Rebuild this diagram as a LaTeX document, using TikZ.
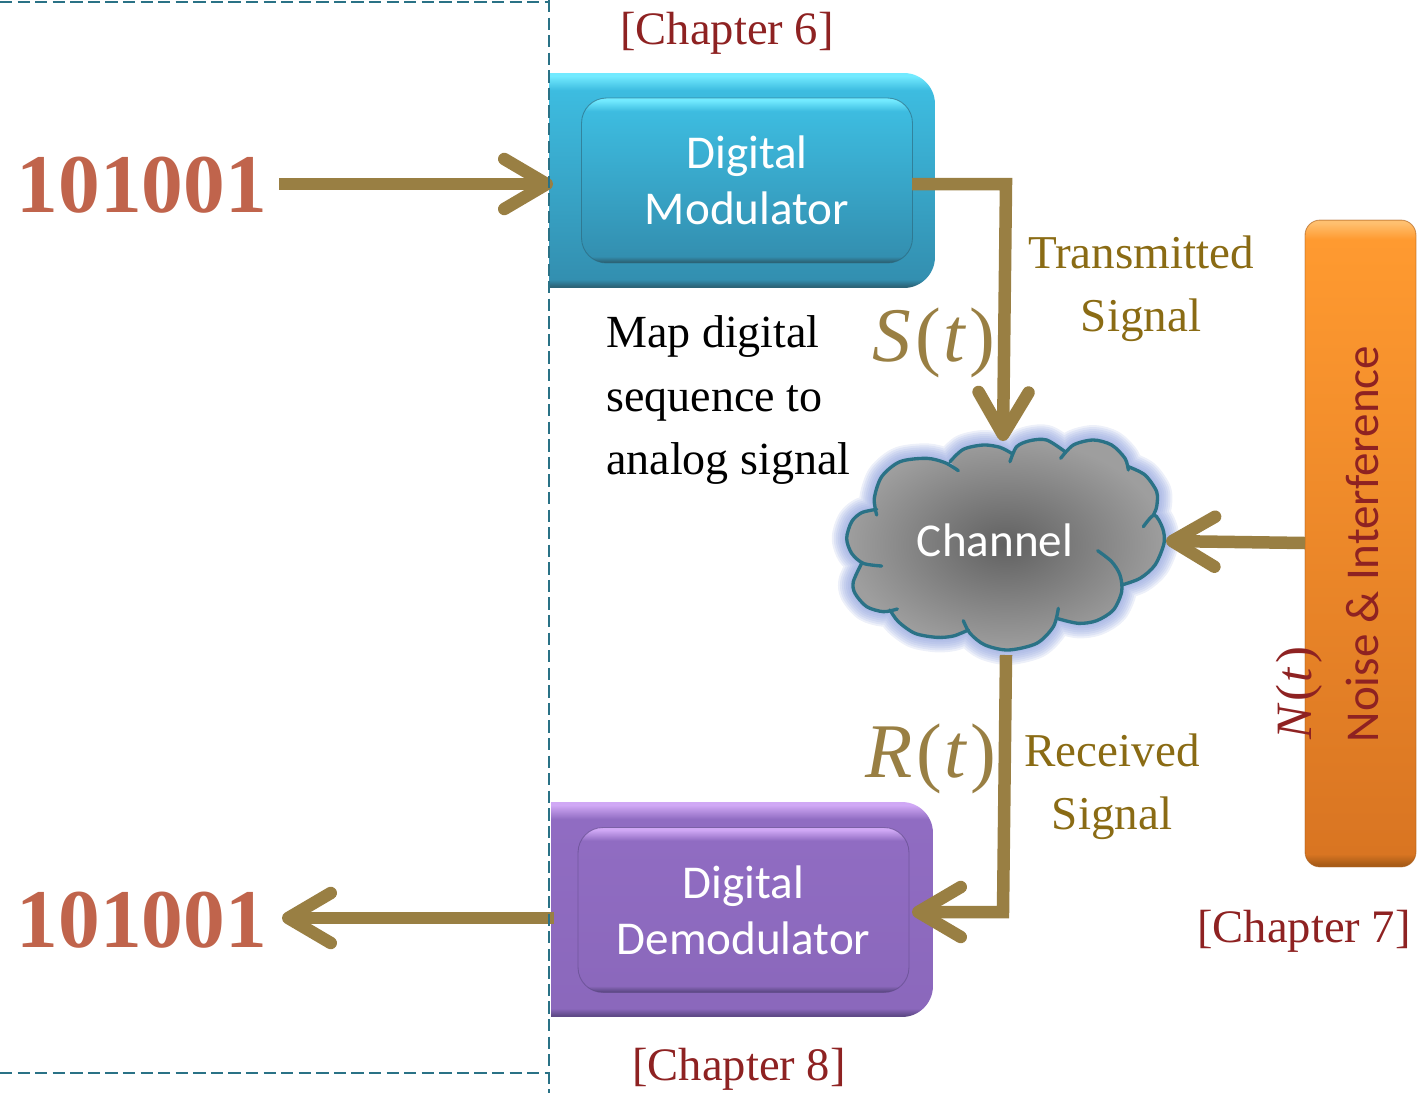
\documentclass[tikz,border=0pt]{standalone}
\usepackage{fontspec}
\setmainfont{Liberation Serif}
\newfontfamily\calibrifont{Carlito}
\usepackage{tikz}
\usetikzlibrary{arrows.meta}
\usepackage{xcolor}
\definecolor{dash_teal}{HTML}{2A7286}
\definecolor{flow_tan}{HTML}{997F43}
\definecolor{bits_red}{HTML}{C0644C}
\definecolor{chapter_red}{HTML}{8E2222}
\definecolor{label_olive}{HTML}{8A6B14}
\definecolor{glow_blue}{HTML}{8C9FDC}
\definecolor{blue_rim}{HTML}{2C6478}
\definecolor{blue_low}{HTML}{338FB0}
\definecolor{blue_high}{HTML}{3DBCE0}
\definecolor{blue_light}{HTML}{72EAFF}
\definecolor{purple_rim}{HTML}{5F4A88}
\definecolor{purple_low}{HTML}{8B68BC}
\definecolor{purple_high}{HTML}{906CC2}
\definecolor{purple_light}{HTML}{D0A8F5}
\definecolor{orange_rim}{HTML}{A85C18}
\definecolor{orange_low}{HTML}{D97522}
\definecolor{orange_high}{HTML}{FF9A30}
\definecolor{orange_light}{HTML}{FFC070}
\pgfdeclareverticalshading{blue_bevel}{100bp}{color(0bp)=(blue_rim); color(25.4bp)=(blue_rim); color(27bp)=(blue_low); color(71bp)=(blue_high); color(74.3bp)=(blue_light); color(100bp)=(blue_light)}
\pgfdeclareverticalshading{purple_bevel}{100bp}{color(0bp)=(purple_rim); color(25.4bp)=(purple_rim); color(27bp)=(purple_low); color(71bp)=(purple_high); color(74.3bp)=(purple_light); color(100bp)=(purple_light)}
\pgfdeclareverticalshading{orange_bevel}{100bp}{color(0bp)=(orange_rim); color(25.2bp)=(orange_rim); color(26bp)=(orange_low); color(73.5bp)=(orange_high); color(74.8bp)=(orange_light); color(100bp)=(orange_light)}
\newcommand{\signaltext}[1]{{\itshape #1}\kern2pt(\kern1.5pt{\itshape t}\kern2.5pt)}
\tikzset{
	flow/.style={line width=0.25cm, flow_tan, line join=miter},
	flow_tip/.style={flow, -{Straight Barb[length=0.85cm, width=1cm, round]}},
	outer_box/.style={minimum height=4.3cm, rounded corners=0.62cm, inner sep=0pt},
	inner_box/.style={minimum width=6.62cm, minimum height=3.3cm, rounded corners=0.5cm, inner sep=0pt, text=white, align=center, draw=#1_rim, draw opacity=0.6, line width=0.5pt, shading=#1_bevel, font=\calibrifont\fontsize{26.8}{32}\selectfont},
	dash_line/.style={dash pattern=on 7pt off 3pt, dash_teal, line width=1.5pt},
	chapter/.style={chapter_red, font=\fontsize{26.5}{32}\selectfont},
	olive_text/.style={label_olive, align=center, font=\fontsize{26.8}{36}\selectfont},
	bits/.style={bits_red, font=\bfseries\fontsize{47.5}{56}\selectfont},
	signal_label/.style={flow_tan, font=\fontsize{44}{50}\selectfont}
}
\newcommand{\cloudarcs}[1]{
	plot[smooth] coordinates {(170,315) (163,265) (185,200) (240,155) (320,145) (375,158) (415,182)} #1
	plot[smooth] coordinates {(390,155) (430,118) (490,105) (540,112) (575,130)} #1
	plot[smooth] coordinates {(570,155) (590,110) (630,92) (680,90) (735,125)} #1
	plot[smooth] coordinates {(722,145) (760,105) (820,90) (875,105) (915,145) (925,180)} #1
	plot[smooth] coordinates {(925,170) (975,195) (1010,245) (1010,290) (1000,315)} #1
	plot[smooth] coordinates {(970,350) (1003,315) (1028,355) (1032,400) (1005,465) (960,505) (905,525)} #1
	plot[smooth] coordinates {(833,422) (875,455) (900,495) (905,545) (880,600) (830,632) (775,640) (710,625)} #1
	plot[smooth] coordinates {(715,595) (700,650) (650,700) (565,720) (495,705) (450,670) (430,632)} #1
	plot[smooth] coordinates {(445,660) (400,678) (350,682) (285,670) (235,635) (210,600)} #1
	plot[smooth] coordinates {(232,597) (190,605) (140,590) (105,550) (100,515) (125,460)} #1
	plot[smooth] coordinates {(185,468) (130,460) (95,430) (80,385) (95,335) (125,308) (170,298)}
}

\begin{document}
\begin{tikzpicture}[x=0.02cm, y=-0.02cm]
	\useasboundingbox (0,0) rectangle (1420,1093);
	\coordinate (cloud_top) at (1003,441);
	\coordinate (cloud_right) at (1166,541);
	\coordinate (cloud_bottom) at (1006,655);
	\coordinate (bits_in) at (279,184);
	\coordinate (bits_out) at (282,918);
	\coordinate (mod_in) at (553,184);
	\coordinate (mod_out) at (912,184);
	\coordinate (demod_in) at (912,912);
	\coordinate (demod_out) at (554,918);
	\coordinate (noise_out) at (1305,543);
	% boxes
	\begin{scope}
		\clip (549,0) rectangle (1000,1093);
		\node[outer_box, shading=blue_bevel, minimum width=8.7cm] (mod_outer) at (717.5,180.5) {};
	\end{scope}
	\begin{scope}
		\clip (551,0) rectangle (1000,1093);
		\node[outer_box, shading=purple_bevel, minimum width=8.66cm] (demod_outer) at (716.5,909.5) {};
	\end{scope}
	\node[inner_box=blue] (mod_inner) at (747,180.5) {Digital\\Modulator};
	\node[inner_box=purple] (demod_inner) at (743.5,910) {Digital\\Demodulator};
	\node[minimum width=2.22cm, minimum height=12.94cm, rounded corners=0.3cm, draw=orange_rim, draw opacity=0.6, line width=0.5pt, shading=orange_bevel] (noise) at (1360.5,543.5) {};
	\node[rotate=90, chapter_red, font=\calibrifont\fontsize{26.8}{32}\selectfont] (noise_text) at (1362,544) {Noise \& Interference};
	% cloud
	\begin{scope}[shift={(820,410)}, scale=1/3]
		\foreach \glow in {30,26,22,18,14,10,6}
			\draw[line width=\glow*0.02cm, line join=round, line cap=round, color=glow_blue, opacity=0.16] \cloudarcs{--} -- cycle;
		\shade[inner color=black!62, outer color=black!38] \cloudarcs{--} -- cycle;
		\draw[line width=1.9pt, dash_teal, line cap=round] \cloudarcs{};
	\end{scope}
	\node[text=white, font=\calibrifont\fontsize{26.8}{32}\selectfont] (channel) at (995,540) {Channel};
	% connectors
	\draw[flow_tip] (bits_in) -- (mod_in);
	\draw[flow_tip] (demod_out) -- (bits_out);
	\draw[flow_tip] (mod_out) -- (1006,184) -- (cloud_top);
	\draw[flow_tip] (cloud_bottom) -- (1003,912) -- (demod_in);
	\draw[flow_tip] (noise_out) -- (cloud_right);
	\draw[dash_line] (0,2) -- (549,2);
	\draw[dash_line] (549,0) -- (549,1093);
	\draw[dash_line] (0,1073) -- (549,1073);
	% labels
	\node[bits] (bits_top) at (142,185) {101001};
	\node[bits] (bits_bottom) at (142,920) {101001};
	\node[chapter] (chapter_six) at (727,33) {[Chapter 6]};
	\node[chapter] (chapter_seven) at (1304,931) {[Chapter 7]};
	\node[chapter] (chapter_eight) at (739,1069) {[Chapter 8]};
	\node[align=left, font=\fontsize{26.2}{36}\selectfont, anchor=west] (map_text) at (600,400) {Map digital\\sequence to\\analog signal};
	\node[olive_text] (tx_text) at (1141,289) {Transmitted\\Signal};
	\node[olive_text] (rx_text) at (1112,787) {Received\\Signal};
	\node[signal_label] (s_text) at (934,343) {\signaltext{S}};
	\node[signal_label] (r_text) at (931,759) {\signaltext{R}};
	\node[rotate=90, chapter_red, font=\fontsize{29}{34}\selectfont] (n_text) at (1299,693) {\signaltext{N}};
\end{tikzpicture}
\end{document}
